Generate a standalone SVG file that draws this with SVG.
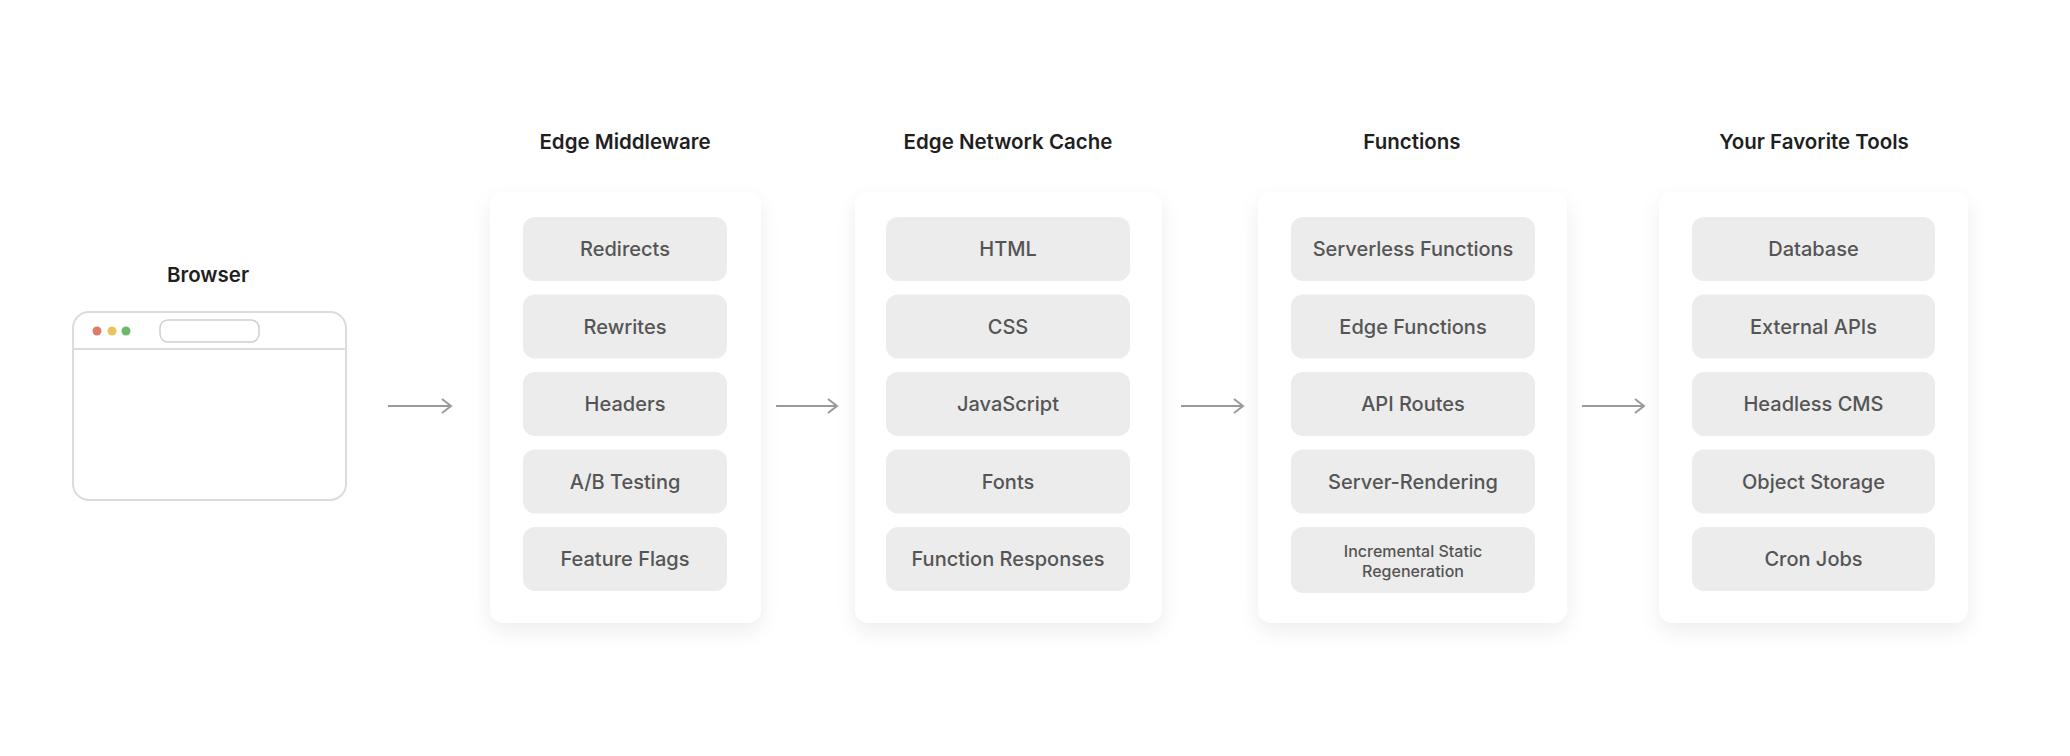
<svg xmlns="http://www.w3.org/2000/svg" width="2070" height="756" viewBox="0 0 2070 756">
<defs>
<style>
.title{font-family:Inter,"Liberation Sans",sans-serif;font-weight:600;font-size:20.5px;fill:#1f1f1f;text-anchor:middle}
.item rect{fill:#ececec}
.item text{font-family:Inter,"Liberation Sans",sans-serif;font-weight:500;font-size:20px;fill:#555;text-anchor:middle;dominant-baseline:central}
.small{font-size:16px !important}
.panel{fill:#fff;filter:url(#sh)}
.arrow{stroke:#9a9a9a;stroke-width:2;fill:none;marker-end:url(#ah)}
</style>
<filter id="sh" x="-20%" y="-20%" width="140%" height="140%">
<feDropShadow dx="0" dy="8" stdDeviation="10" flood-color="#000" flood-opacity="0.07"/>
</filter>
<marker id="ah" markerWidth="14" markerHeight="16" refX="11" refY="8" orient="auto" markerUnits="userSpaceOnUse">
<path d="M2,1 L11,8 L2,15" fill="none" stroke="#9a9a9a" stroke-width="2"/>
</marker>
</defs>
<rect width="2070" height="756" fill="#fff"/>

<g id="browser">
<text class="title" x="208" y="282">Browser</text>
<rect x="73" y="312" width="273" height="188" rx="16" fill="#fff" stroke="#dcdcdc" stroke-width="2"/>
<line x1="74" y1="349" x2="345" y2="349" stroke="#dcdcdc" stroke-width="2"/>
<circle cx="97" cy="331" r="4.5" fill="#e07b6c"/>
<circle cx="112" cy="331" r="4.5" fill="#e9c35c"/>
<circle cx="126" cy="331" r="4.5" fill="#6db86b"/>
<rect x="160" y="320" width="99" height="22" rx="8" fill="#fff" stroke="#cfcfcf" stroke-width="1.5"/>
</g>

<g id="edge-middleware">
<text class="title" x="625" y="149">Edge Middleware</text>
<rect class="panel" x="490" y="192" width="271" height="431" rx="14"/>
<g class="item"><rect x="523" y="217" width="204" height="64" rx="12"/><text x="625" y="249">Redirects</text></g>
<g class="item"><rect x="523" y="294.5" width="204" height="64" rx="12"/><text x="625" y="326.5">Rewrites</text></g>
<g class="item"><rect x="523" y="372" width="204" height="64" rx="12"/><text x="625" y="404">Headers</text></g>
<g class="item"><rect x="523" y="449.5" width="204" height="64" rx="12"/><text x="625" y="481.5">A/B Testing</text></g>
<g class="item"><rect x="523" y="527" width="204" height="64" rx="12"/><text x="625" y="559">Feature Flags</text></g>
</g>

<g id="edge-network-cache">
<text class="title" x="1008" y="149">Edge Network Cache</text>
<rect class="panel" x="855" y="192" width="307" height="431" rx="14"/>
<g class="item"><rect x="886" y="217" width="244" height="64" rx="12"/><text x="1008" y="249">HTML</text></g>
<g class="item"><rect x="886" y="294.5" width="244" height="64" rx="12"/><text x="1008" y="326.5">CSS</text></g>
<g class="item"><rect x="886" y="372" width="244" height="64" rx="12"/><text x="1008" y="404">JavaScript</text></g>
<g class="item"><rect x="886" y="449.5" width="244" height="64" rx="12"/><text x="1008" y="481.5">Fonts</text></g>
<g class="item"><rect x="886" y="527" width="244" height="64" rx="12"/><text x="1008" y="559">Function Responses</text></g>
</g>

<g id="functions">
<text class="title" x="1412" y="149">Functions</text>
<rect class="panel" x="1258" y="192" width="309" height="431" rx="14"/>
<g class="item"><rect x="1291" y="217" width="244" height="64" rx="12"/><text x="1413" y="249">Serverless Functions</text></g>
<g class="item"><rect x="1291" y="294.5" width="244" height="64" rx="12"/><text x="1413" y="326.5">Edge Functions</text></g>
<g class="item"><rect x="1291" y="372" width="244" height="64" rx="12"/><text x="1413" y="404">API Routes</text></g>
<g class="item"><rect x="1291" y="449.5" width="244" height="64" rx="12"/><text x="1413" y="481.5">Server-Rendering</text></g>
<g class="item"><rect x="1291" y="527" width="244" height="66" rx="12"/><text class="small" x="1413" y="551">Incremental Static</text><text class="small" x="1413" y="571">Regeneration</text></g>
</g>

<g id="your-favorite-tools">
<text class="title" x="1814" y="149">Your Favorite Tools</text>
<rect class="panel" x="1659" y="192" width="309" height="431" rx="14"/>
<g class="item"><rect x="1692" y="217" width="243" height="64" rx="12"/><text x="1813.5" y="249">Database</text></g>
<g class="item"><rect x="1692" y="294.5" width="243" height="64" rx="12"/><text x="1813.5" y="326.5">External APIs</text></g>
<g class="item"><rect x="1692" y="372" width="243" height="64" rx="12"/><text x="1813.5" y="404">Headless CMS</text></g>
<g class="item"><rect x="1692" y="449.5" width="243" height="64" rx="12"/><text x="1813.5" y="481.5">Object Storage</text></g>
<g class="item"><rect x="1692" y="527" width="243" height="64" rx="12"/><text x="1813.5" y="559">Cron Jobs</text></g>
</g>

<g id="connectors">
<line class="arrow" x1="388" y1="406" x2="451" y2="406"/>
<line class="arrow" x1="776" y1="406" x2="837" y2="406"/>
<line class="arrow" x1="1181" y1="406" x2="1243" y2="406"/>
<line class="arrow" x1="1582" y1="406" x2="1644" y2="406"/>
</g>
</svg>
